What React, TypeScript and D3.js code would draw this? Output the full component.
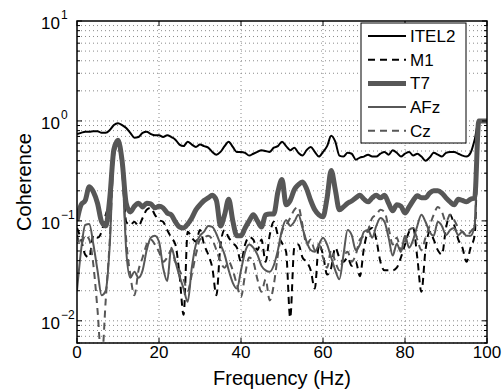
import React from "react";
import * as d3 from "d3";

const FREQ: number[] = d3.range(0, 101);

const ITEL2 = [0.74,0.76,0.78,0.78,0.79,0.79,0.76,0.76,0.81,0.91,0.95,0.91,0.85,0.76,0.68,0.69,0.76,0.78,0.74,0.72,0.72,0.69,0.72,0.69,0.65,0.58,0.56,0.62,0.58,0.55,0.58,0.56,0.54,0.49,0.46,0.49,0.56,0.62,0.55,0.49,0.49,0.48,0.45,0.47,0.49,0.51,0.50,0.49,0.54,0.56,0.62,0.56,0.51,0.54,0.48,0.45,0.51,0.55,0.49,0.44,0.49,0.56,0.71,0.62,0.45,0.44,0.48,0.47,0.41,0.43,0.44,0.46,0.44,0.44,0.47,0.49,0.46,0.51,0.48,0.44,0.47,0.49,0.45,0.47,0.44,0.40,0.43,0.48,0.46,0.44,0.48,0.49,0.49,0.47,0.45,0.44,0.48,0.65,1.0,1.0,1.0];

const M1 = [0.085,0.065,0.046,0.043,0.072,0.068,0.078,0.115,0.162,0.45,0.56,0.33,0.098,0.091,0.098,0.089,0.107,0.129,0.135,0.115,0.102,0.098,0.081,0.068,0.058,0.029,0.0115,0.078,0.068,0.062,0.081,0.058,0.046,0.034,0.018,0.058,0.081,0.068,0.060,0.054,0.039,0.058,0.069,0.065,0.051,0.065,0.039,0.072,0.098,0.072,0.060,0.049,0.0107,0.054,0.058,0.043,0.039,0.032,0.021,0.058,0.046,0.029,0.034,0.054,0.043,0.039,0.043,0.0355,0.039,0.028,0.054,0.078,0.085,0.065,0.039,0.032,0.032,0.032,0.034,0.043,0.058,0.078,0.085,0.043,0.0195,0.051,0.078,0.065,0.051,0.046,0.085,0.115,0.091,0.065,0.054,0.039,0.054,0.072,1.0,1.0,1.0];

const T7 = [0.10,0.145,0.16,0.22,0.195,0.15,0.098,0.089,0.17,0.52,0.64,0.40,0.15,0.123,0.14,0.15,0.138,0.15,0.148,0.135,0.14,0.135,0.12,0.115,0.098,0.087,0.085,0.093,0.107,0.129,0.145,0.16,0.17,0.18,0.16,0.089,0.115,0.165,0.10,0.071,0.071,0.085,0.10,0.115,0.10,0.087,0.115,0.117,0.117,0.195,0.26,0.145,0.16,0.205,0.23,0.245,0.21,0.16,0.129,0.115,0.11,0.17,0.32,0.205,0.129,0.138,0.15,0.158,0.17,0.18,0.165,0.155,0.17,0.18,0.17,0.18,0.15,0.126,0.145,0.14,0.12,0.138,0.16,0.178,0.17,0.17,0.19,0.20,0.20,0.19,0.17,0.155,0.145,0.165,0.16,0.155,0.165,0.17,1.0,1.0,1.0];

const AFZ = [0.020,0.051,0.091,0.093,0.058,0.032,0.018,0.020,0.058,0.46,0.59,0.35,0.051,0.027,0.031,0.027,0.032,0.051,0.068,0.071,0.062,0.034,0.025,0.054,0.039,0.028,0.021,0.0155,0.034,0.058,0.071,0.078,0.089,0.087,0.074,0.058,0.046,0.032,0.024,0.021,0.032,0.049,0.058,0.054,0.046,0.0355,0.032,0.031,0.036,0.051,0.081,0.102,0.089,0.098,0.115,0.085,0.062,0.051,0.049,0.058,0.068,0.058,0.043,0.032,0.026,0.046,0.081,0.072,0.051,0.058,0.078,0.081,0.068,0.089,0.107,0.098,0.068,0.045,0.059,0.049,0.071,0.054,0.065,0.089,0.115,0.098,0.078,0.071,0.098,0.089,0.072,0.081,0.085,0.072,0.078,0.071,0.071,0.091,1.0,1.0,1.0];

const CZ = [0.072,0.058,0.072,0.065,0.036,0.0129,0.004,0.016,0.065,0.44,0.57,0.33,0.065,0.029,0.018,0.032,0.043,0.058,0.065,0.058,0.049,0.039,0.043,0.051,0.039,0.032,0.026,0.020,0.029,0.046,0.065,0.068,0.071,0.065,0.051,0.039,0.034,0.039,0.032,0.023,0.0174,0.029,0.043,0.039,0.026,0.0195,0.026,0.016,0.023,0.046,0.078,0.091,0.107,0.129,0.138,0.091,0.058,0.065,0.051,0.058,0.043,0.034,0.051,0.039,0.032,0.043,0.049,0.039,0.046,0.065,0.071,0.081,0.107,0.115,0.129,0.123,0.085,0.058,0.068,0.051,0.062,0.081,0.085,0.065,0.051,0.068,0.089,0.115,0.138,0.123,0.098,0.115,0.102,0.085,0.078,0.071,0.078,0.091,1.0,1.0,1.0];

const X_TICKS = [0, 20, 40, 60, 80, 100];
const Y_EXPONENTS = [1, 0, -1, -2];
const LEGEND_LABELS = ["ITEL2", "M1", "T7", "AFz", "Cz"];

const GRAY = "#575757";
const SERIES = [
  { name: "ITEL2", data: ITEL2, color: "#000", width: 2, dash: "" },
  { name: "M1", data: M1, color: "#000", width: 2, dash: "7,5" },
  { name: "T7", data: T7, color: GRAY, width: 5, dash: "" },
  { name: "AFz", data: AFZ, color: GRAY, width: 2, dash: "" },
  { name: "Cz", data: CZ, color: GRAY, width: 2, dash: "7,5" },
];

export default function App() {
  const W = 503, H = 390;
  const L = 77, R = 487, T = 21, B = 343;
  const x = d3.scaleLinear().domain([0, 100]).range([L, R]);
  const y = d3.scaleLog().domain([0.006, 10]).range([B, T]);
  const line = (data: number[]) =>
    d3.line<number>().x((_, i) => x(FREQ[i])).y((d) => y(d)).curve(d3.curveMonotoneX)(data) || "";

  const minorVals: number[] = [];
  for (let k = -3; k <= 1; k++) {
    for (let m = 1; m <= 9; m++) {
      const v = m * Math.pow(10, k);
      if (v >= 0.006 - 1e-9 && v <= 10 + 1e-9) minorVals.push(v);
    }
  }
  const font = "'Liberation Sans', Arial, Helvetica, sans-serif";

  return (
    <svg width={W} height={H} style={{ position: "absolute", left: 0, top: 0, background: "#fff" }} fontFamily={font}>
      <defs>
        <clipPath id="plotclip">
          <rect x={L} y={T} width={R - L} height={B - T} />
        </clipPath>
      </defs>
      <rect x={L} y={T} width={R - L} height={B - T} fill="#fff" />
      <g stroke="#8a8a8a" strokeWidth={1} strokeDasharray="1,3">
        {X_TICKS.filter((t) => t > 0 && t < 100).map((t) => (
          <line key={"gx" + t} x1={x(t)} x2={x(t)} y1={T} y2={B} />
        ))}
        {minorVals.filter((v) => v < 10).map((v) => (
          <line key={"gy" + v} x1={L} x2={R} y1={y(v)} y2={y(v)} />
        ))}
      </g>
      <g clipPath="url(#plotclip)" fill="none" strokeLinejoin="round">
        {SERIES.map((s) => (
          <path key={s.name} d={line(s.data)} stroke={s.color} strokeWidth={s.width} strokeDasharray={s.dash || undefined} />
        ))}
      </g>
      <g stroke="#000" strokeWidth={1}>
        {X_TICKS.map((t) => (
          <g key={"tx" + t}>
            <line x1={x(t)} x2={x(t)} y1={B} y2={B - 5} />
            <line x1={x(t)} x2={x(t)} y1={T} y2={T + 5} />
          </g>
        ))}
        {minorVals.map((v) => {
          const major = Math.abs(Math.log10(v) - Math.round(Math.log10(v))) < 1e-9;
          const len = major ? 5 : 3;
          return (
            <g key={"ty" + v}>
              <line x1={L} x2={L + len} y1={y(v)} y2={y(v)} />
              <line x1={R} x2={R - len} y1={y(v)} y2={y(v)} />
            </g>
          );
        })}
      </g>
      <rect x={L} y={T} width={R - L} height={B - T} fill="none" stroke="#000" strokeWidth={1.5} />
      {X_TICKS.map((t) => (
        <text key={"lx" + t} x={x(t)} y={358} fontSize={17} textAnchor="middle" fill="#000">{t}</text>
      ))}
      {Y_EXPONENTS.map((k) => (
        <g key={"ly" + k}>
          <text x={60} y={y(Math.pow(10, k)) + 8} fontSize={17} textAnchor="end" fill="#000">10</text>
          <text x={61} y={y(Math.pow(10, k)) - 2} fontSize={12} textAnchor="start" fill="#000">{k < 0 ? "\u2212" + Math.abs(k) : String(k)}</text>
        </g>
      ))}
      <text x={(L + R) / 2} y={385} fontSize={20} textAnchor="middle" fill="#000">Frequency (Hz)</text>
      <text transform={`translate(31,${(T + B) / 2}) rotate(-90)`} fontSize={20} textAnchor="middle" fill="#000">Coherence</text>
      <g>
        <rect x={361} y={23} width={105} height={120} fill="#fff" stroke="#000" strokeWidth={1} />
        {SERIES.map((s, i) => {
          const ly = 36 + i * 23.7;
          return (
            <g key={"lg" + s.name}>
              <line x1={368} x2={406} y1={ly} y2={ly} stroke={s.color} strokeWidth={s.width} strokeDasharray={s.dash || undefined} />
              <text x={410} y={ly + 6} fontSize={17} fill="#000">{LEGEND_LABELS[i]}</text>
            </g>
          );
        })}
      </g>
    </svg>
  );
}
